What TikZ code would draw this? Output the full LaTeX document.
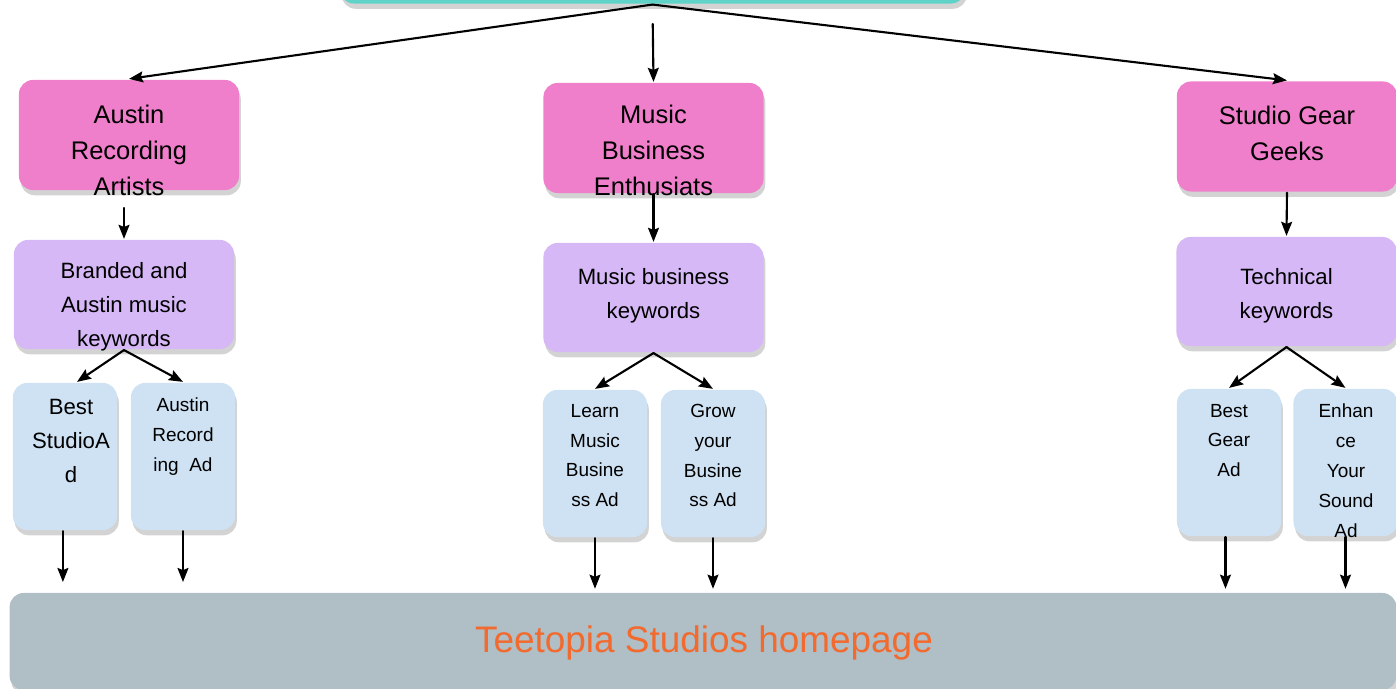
\documentclass[tikz,border=0pt]{standalone}
\usepackage{fontspec}
\setmainfont{Liberation Sans}
\usetikzlibrary{shadows,arrows.meta}
\definecolor{topteal}{HTML}{5FD3C8}
\definecolor{segpink}{HTML}{F07FCB}
\definecolor{kwlilac}{HTML}{D5B8F5}
\definecolor{adblue}{HTML}{CFE2F3}
\definecolor{homegray}{HTML}{B0BEC5}
\definecolor{homeorange}{HTML}{F26A2E}
\tikzset{
  box/.style={rectangle,rounded corners=4pt,inner sep=0pt,
    drop shadow={shadow xshift=0.5pt,shadow yshift=-1.5pt,opacity=0.35}},
  segbox/.style={box,fill=segpink,minimum width=2.2cm,minimum height=1.1cm},
  kwbox/.style={box,fill=kwlilac,minimum width=2.2cm,minimum height=1.09cm},
  adbox/.style={box,fill=adblue,minimum width=1.04cm,minimum height=1.47cm},
  segtxt/.style={anchor=north,inner sep=0pt,align=center,font=\fontsize{7.25}{10.2}\selectfont},
  kwtxt/.style={anchor=north,inner sep=0pt,align=center,font=\fontsize{6.3}{9.7}\selectfont},
  adtxt/.style={anchor=north,inner sep=0pt,align=center,font=\fontsize{5.4}{8.5}\selectfont},
}
\begin{document}
\begin{tikzpicture}[x=0.01cm,y=-0.01cm,>={Stealth[length=4pt,width=3.1pt,inset=0.6pt]},line join=round,line cap=round,line width=0.6pt]
\useasboundingbox (0,0) rectangle (1396,689);
\clip (0,0) rectangle (1396,689);
% top box, mostly outside the picture
\node[box,fill=topteal,minimum width=6.25cm,minimum height=0.63cm] (top) at (652.5,-28) {};
% audience boxes
\node[segbox] (ara) at (129,135) {};
\node[segbox] (mbe) at (653.5,138) {};
\node[segbox] (sgg) at (1287,136.5) {};
\node[segtxt] (ara-t) at (129,104) {Austin\\Recording\\Artists};
\node[segtxt] (mbe-t) at (653.5,104) {Music\\Business\\Enthusiats};
\node[segtxt] (sgg-t) at (1287,105) {Studio Gear\\Geeks};
% keyword boxes
\node[kwbox] (kwa) at (124,294.5) {};
\node[kwbox] (kwm) at (653.5,297.5) {};
\node[kwbox] (kwt) at (1286.5,291.5) {};
\node[kwtxt] (kwa-t) at (124,261) {Branded and\\Austin music\\keywords};
\node[kwtxt] (kwm-t) at (653.5,267) {Music business\\keywords};
\node[kwtxt] (kwt-t) at (1286.5,267) {Technical\\keywords};
% ad boxes
\node[adbox] (adb) at (65,456.5) {};
\node[adbox] (ada) at (183,456.5) {};
\node[adbox] (adl) at (595,463.5) {};
\node[adbox] (adg) at (713,463.5) {};
\node[adbox] (adr) at (1229,462.5) {};
\node[adbox] (ade) at (1345.5,462.5) {};
\node[adtxt,font=\fontsize{6.3}{9.7}\selectfont] (adb-t) at (71,398) {Best\\StudioA\\d};
\node[adtxt] (ada-t) at (183,397) {Austin\\Record\\ing\ \ Ad};
\node[adtxt] (adl-t) at (595,403) {Learn\\Music\\Busine\\ss Ad};
\node[adtxt] (adg-t) at (713,403) {Grow\\your\\Busine\\ss Ad};
\node[adtxt] (adr-t) at (1229,403) {Best\\Gear\\Ad};
\node[adtxt] (ade-t) at (1346,403) {Enhan\\ce\\Your\\Sound\\Ad};
% landing page
\node[box,fill=homegray,minimum width=13.86cm,minimum height=0.97cm] (home) at (703,641.5) {};
\node[anchor=base,inner sep=0pt,text=homeorange,font=\fontsize{10.5}{12}\selectfont] (home-t) at (704,653) {Teetopia Studios homepage};
% arrows
\draw[->] (top.south) -- (ara.north);
\draw[->] (top.south) -- (sgg.north);
\draw[->,shorten <=5.5pt] (top.south) -- (mbe.north);
\draw[->,shorten <=4.8pt] (ara.south -| kwa.north) -- (kwa.north);
\draw[->] (mbe.south) -- (kwm.north);
\draw[->] (sgg.south) -- (kwt.north);
\draw[->] (kwa.south) -- ([xshift=3.4pt]adb.north);
\draw[->] (kwa.south) -- (ada.north);
\draw[->] (kwm.south) -- (adl.north);
\draw[->] (kwm.south) -- (adg.north);
\draw[->] (kwt.south) -- (adr.north);
\draw[->] (kwt.south) -- (ade.north);
\draw[->,shorten >=2.8pt] ([xshift=-0.6pt]adb.south) -- ([xshift=-0.6pt]adb.south |- home.north);
\draw[->,shorten >=2.8pt] (ada.south) -- (ada.south |- home.north);
\draw[->,shorten >=0.9pt] (adl.south) -- (adl.south |- home.north);
\draw[->,shorten >=0.9pt] (adg.south) -- (adg.south |- home.north);
\draw[->,shorten >=0.9pt] ([xshift=-1pt]adr.south) -- ([xshift=-1pt]adr.south |- home.north);
\draw[->,shorten >=0.9pt] (ade.south) -- (ade.south |- home.north);
\end{tikzpicture}
\end{document}
